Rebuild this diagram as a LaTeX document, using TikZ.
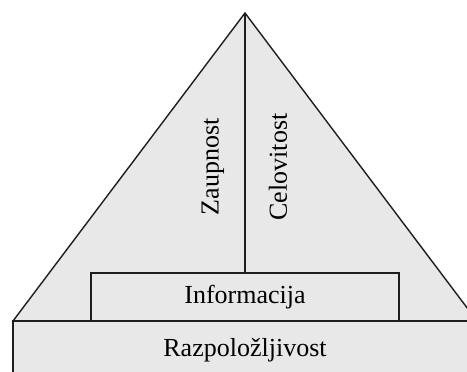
\documentclass[tikz,border=0pt]{standalone}
\usepackage{fontspec}
\setmainfont{Liberation Serif}
\definecolor{panelgray}{RGB}{232,232,232}
\definecolor{inkline}{RGB}{30,30,30}
\begin{document}
\begin{tikzpicture}[x=1pt,y=-1pt,
  outline/.style={draw=inkline,line width=1.4pt},
  boxlayer/.style={outline,fill=panelgray,rectangle,inner sep=0pt,
    font=\fontsize{26}{31}\selectfont},
  sidelabel/.style={rotate=90,inner sep=0pt,font=\fontsize{26}{31}\selectfont}]
  \useasboundingbox (0,0) rectangle (467,372);
  \clip (0,0) rectangle (467,372);
  \fill[white] (0,0) rectangle (467,372);
  % pyramid body
  \coordinate (apex) at (245,13);
  \filldraw[outline,fill=panelgray,line join=miter] (13,321) -- (apex) -- (477,321) -- cycle;
  % two halves of the pyramid
  \node[sidelabel] (zaupnost) at (213,167) {Zaupnost};
  \node[sidelabel] (celovitost) at (278,167) {Celovitost};
  % layers
  \node[boxlayer,minimum width=308pt,minimum height=48pt] (info) at (245,297) {Informacija};
  \node[boxlayer,minimum width=464pt,minimum height=58pt] (razp) at (245,350) {Razpoložljivost};
  \draw[outline] (apex) -- (info.north);
\end{tikzpicture}
\end{document}
